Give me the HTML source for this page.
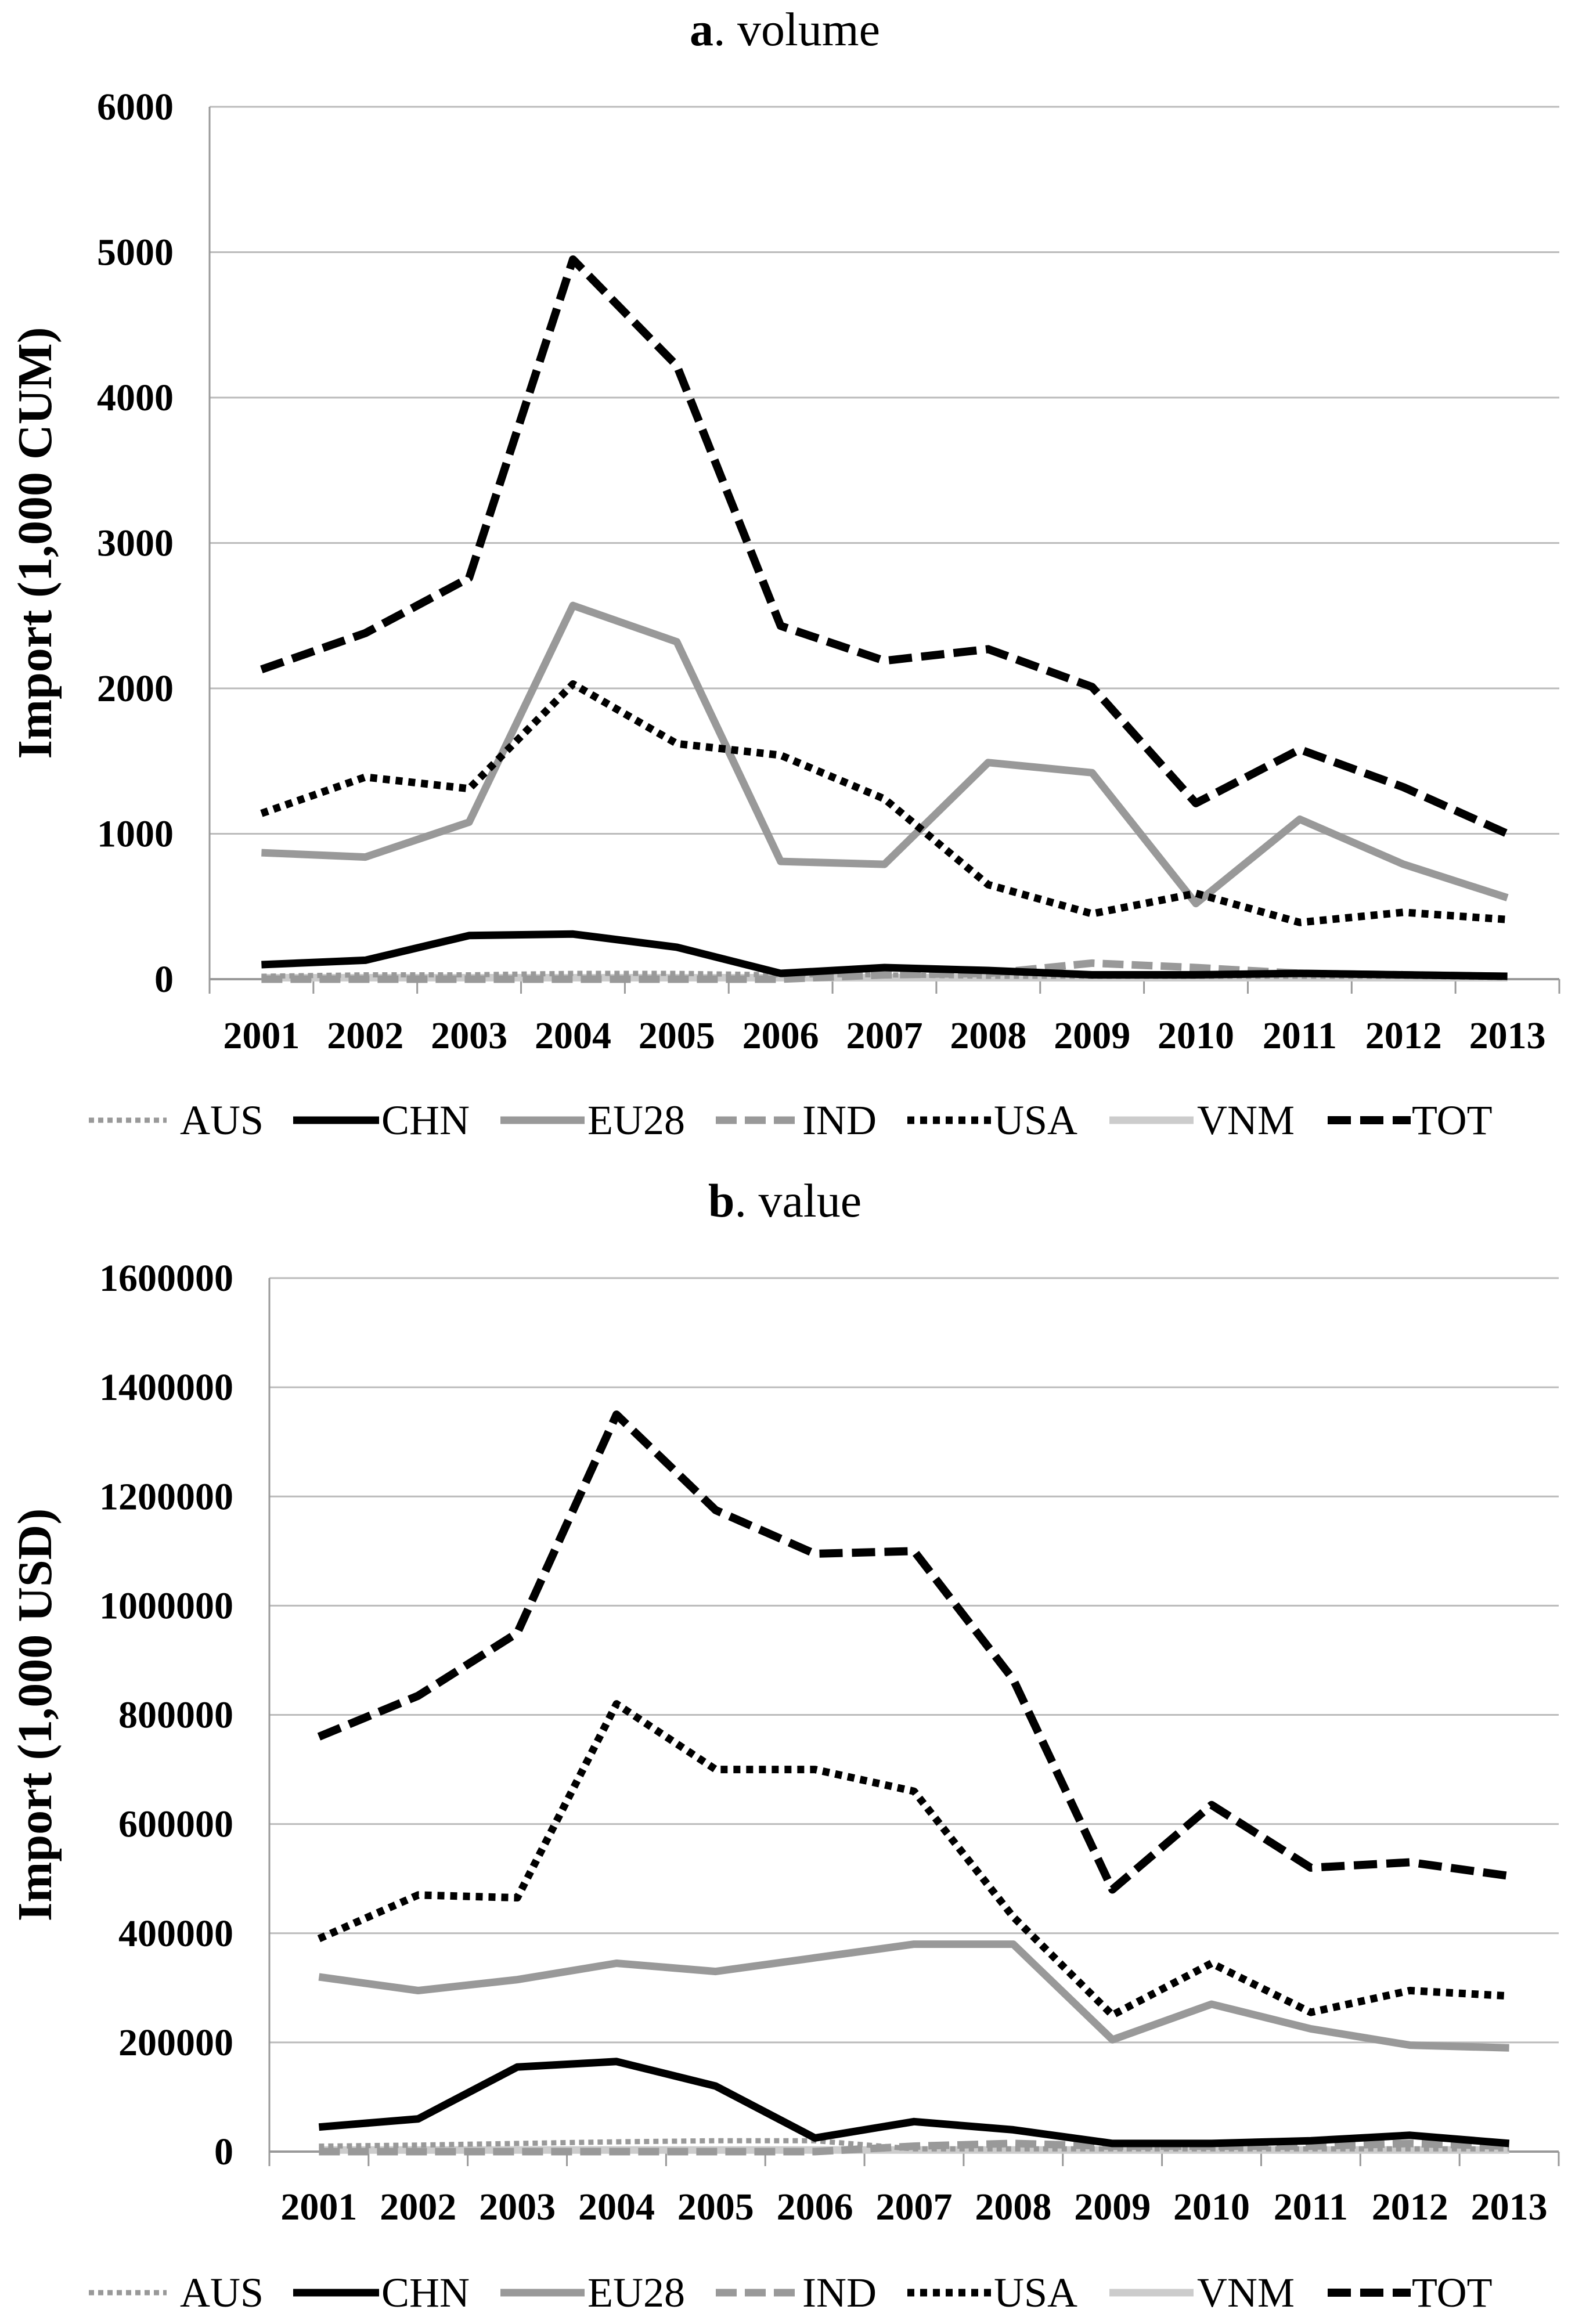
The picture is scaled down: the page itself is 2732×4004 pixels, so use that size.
<!DOCTYPE html>
<html><head><meta charset="utf-8"><style>
html,body{margin:0;padding:0;background:#fff;}
svg{display:block;font-family:"Liberation Serif",serif;}
</style></head><body>
<svg id="chart" width="2732" height="4004" viewBox="0 0 2732 4004" xmlns="http://www.w3.org/2000/svg"></svg>
<script>
const years = ["2001","2002","2003","2004","2005","2006","2007","2008","2009","2010","2011","2012","2013"];
const seriesNames = ["AUS","CHN","EU28","IND","USA","VNM","TOT"];
// panel a: volume (1,000 CUM)
const volAUS = [20,30,30,40,40,30,30,20,20,20,20,20,10];
const volCHN = [100,130,300,310,220,40,80,60,30,30,40,30,20];
const volEU28 = [870,840,1080,2570,2320,810,790,1490,1420,520,1100,790,560];
const volIND = [0,0,0,0,0,0,30,40,110,80,40,30,20];
const volUSA = [1140,1390,1310,2030,1620,1540,1240,650,450,590,390,460,410];
const volVNM = [10,10,10,10,10,10,10,10,10,10,10,10,10];
const volTOT = [2130,2380,2760,4950,4220,2430,2190,2270,2010,1210,1580,1320,1000];
const volTicks = [0,1000,2000,3000,4000,5000,6000];
// panel b: value (1,000 USD)
const valAUS = [10000,12000,15000,18000,20000,20000,5000,5000,5000,5000,5000,5000,5000];
const valCHN = [45000,60000,155000,165000,120000,25000,55000,40000,15000,15000,20000,30000,15000];
const valEU28 = [320000,295000,315000,345000,330000,355000,380000,380000,205000,270000,225000,195000,190000];
const valIND = [0,0,0,0,0,0,10000,15000,10000,10000,10000,15000,10000];
const valUSA = [390000,470000,465000,820000,700000,700000,660000,430000,250000,345000,255000,295000,285000];
const valVNM = [3000,3000,3000,3000,3000,3000,3000,3000,3000,3000,3000,3000,3000];
const valTOT = [760000,835000,950000,1350000,1175000,1095000,1100000,865000,480000,635000,520000,530000,505000];
const valTicks = [0,200000,400000,600000,800000,1000000,1200000,1400000,1600000];

const NS="http://www.w3.org/2000/svg";
const svg=document.getElementById('chart');
function mk(tag,attrs,parent){const e=document.createElementNS(NS,tag);for(const k in attrs)e.setAttribute(k,attrs[k]);(parent||svg).appendChild(e);return e;}
const styles={
 AUS:{stroke:"#999",w:9,dash:"9 7"},
 CHN:{stroke:"#000",w:13,dash:""},
 EU28:{stroke:"#999",w:13,dash:""},
 IND:{stroke:"#999",w:13,dash:"36 14"},
 USA:{stroke:"#000",w:13,dash:"12 10"},
 VNM:{stroke:"#ccc",w:13,dash:""},
 TOT:{stroke:"#000",w:14,dash:"40 16"}
};
const legX=[[153,287,310],[505,653,657],[862,1007,1012],[1233,1376,1382],[1563,1707,1712],[1911,2056,2062],[2287,2430,2432]];

function panel(p){
 const g=mk('g',{});
 
 
 const L=p.left,R=p.right,Y0=p.y0,Y1=p.y1,max=p.ticks[p.ticks.length-1];
 const band=(R-L)/years.length;
 const xs=i=>L+band*(i+0.5);
 const ys=v=>Y0-(v/max)*(Y0-Y1);
 const t=mk('text',{x:1352,y:p.titleY,'text-anchor':'middle','font-size':82},g);
 
 
 t.innerHTML='<tspan font-weight="bold">'+p.letter+'</tspan>. '+p.title;
 p.ticks.forEach(v=>{
  const ln=mk('line',{x1:L,x2:R,y1:ys(v),y2:ys(v),stroke:v===0?'#999':'#bbb','stroke-width':v===0?4:3},g);
  
  
  const tx=mk('text',{x:L-62,y:ys(v)+22,'text-anchor':'end','font-size':66,'font-weight':'bold'},g);
  
  
  tx.textContent=v;
 });
 mk('line',{x1:L,x2:L,y1:Y1,y2:Y0+25,stroke:'#999','stroke-width':3},g);
 for(let i=0;i<=years.length;i++){mk('line',{x1:L+band*i,x2:L+band*i,y1:Y0,y2:Y0+25,stroke:'#999','stroke-width':3},g);}
 years.forEach((yr,i)=>{
  const tx=mk('text',{x:xs(i),y:p.xlabY,'text-anchor':'middle','font-size':66,'font-weight':'bold'},g);
  
  
  tx.textContent=yr;
 });
 const yt=mk('text',{x:0,y:0,'text-anchor':'middle','font-size':84,'font-weight':'bold',transform:`translate(88,${(Y0+Y1)/2}) rotate(-90)`},g);
 
 
 yt.textContent=p.ytitle;
 ["VNM","AUS","IND","CHN","EU28","USA","TOT"].forEach(n=>{
  const d=p.data[n],s=styles[n];
  const pts=d.map((v,i)=>xs(i).toFixed(1)+','+ys(v).toFixed(1)).join(' ');
  const pl=mk('polyline',{points:pts,fill:'none',stroke:s.stroke,'stroke-width':s.w,'stroke-dasharray':s.dash,'stroke-linejoin':'round'},g);
  
  
 });
 seriesNames.forEach((n,k)=>{
  const s=styles[n],lx=legX[k];
  const lg=mk('g',{},g);
  
  
  mk('line',{x1:lx[0],x2:lx[1],y1:p.legY,y2:p.legY,stroke:s.stroke,'stroke-width':s.w,'stroke-dasharray':s.dash},lg);
  const tx=mk('text',{x:lx[2],y:p.legY+24,'font-size':72},lg);
  tx.textContent=n;
 });
}
panel({name:'volume-chart',letter:'a',title:'volume',titleY:78,left:361,right:2686,y0:1687,y1:184,ticks:volTicks,xlabY:1806,legY:1930,ytitle:'Import (1,000 CUM)',
 data:{AUS:volAUS,CHN:volCHN,EU28:volEU28,IND:volIND,USA:volUSA,VNM:volVNM,TOT:volTOT}});
panel({name:'value-chart',letter:'b',title:'value',titleY:2096,left:464,right:2685,y0:3707,y1:2202,ticks:valTicks,xlabY:3824,legY:3950,ytitle:'Import (1,000 USD)',
 data:{AUS:valAUS,CHN:valCHN,EU28:valEU28,IND:valIND,USA:valUSA,VNM:valVNM,TOT:valTOT}});
</script>
</body></html>
